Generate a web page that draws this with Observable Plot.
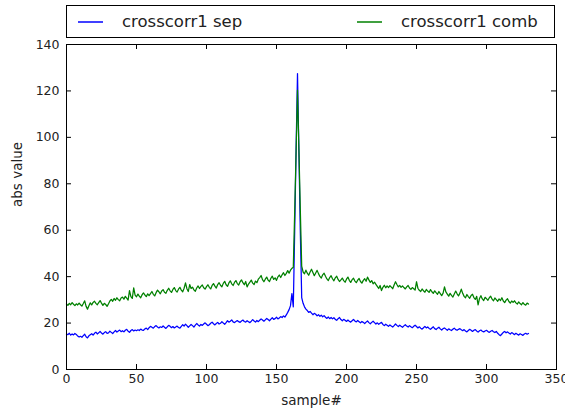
<!DOCTYPE html>
<html>
<head>
<meta charset="utf-8">
<script src="https://cdn.jsdelivr.net/npm/d3@7"></script>
<script src="https://cdn.jsdelivr.net/npm/@observablehq/plot@0.6"></script>
<style>
  body { margin: 0; background: #fff; font-family: "DejaVu Sans", sans-serif; }
  #wrap { position: relative; width: 565px; height: 415px; }
  #legend { position: absolute; left: 66px; top: 5px; width: 487px; height: 31px; border: 1px solid #000; background: #fff; box-sizing: content-box; }
  .item { position: absolute; top: 0; height: 31px; display: flex; align-items: center; font-size: 16.5px; color: #222; }
  .item svg { display: block; margin-right: 19px; }
</style>
</head>
<body>
<div id="wrap">
  <div id="chart"></div>
  <div id="legend"></div>
</div>
<script>
const seriesNames = ["crosscorr1 sep", "crosscorr1 comb"];
const seriesColors = ["#0000ff", "#008000"];
const xTicks = [0, 50, 100, 150, 200, 250, 300, 350];
const yTicks = [0, 20, 40, 60, 80, 100, 120, 140];
const xLabel = "sample#";
const yLabel = "abs value";

// sample index 0..330
const sep = [
15.2,15.0,15.6,14.8,15.3,14.9,15.5,15.1,14.4,14.0,
14.3,13.9,14.6,15.2,14.1,13.6,14.5,15.0,15.4,14.8,
15.6,16.1,15.3,15.8,16.4,15.7,15.2,15.9,16.3,15.6,
15.8,16.5,16.0,15.5,16.2,16.8,16.1,16.6,17.0,16.3,
16.7,16.2,16.9,17.3,16.5,16.0,16.8,17.2,16.6,17.0,
16.7,17.1,16.8,17.4,17.0,16.9,17.5,17.8,17.2,18.0,
18.6,18.2,17.8,18.5,18.9,18.3,17.9,18.4,18.1,18.8,
18.2,17.7,18.4,19.0,18.6,18.0,18.5,17.9,18.3,18.7,
18.1,17.8,18.6,19.3,18.7,19.5,18.9,18.2,18.8,19.4,
18.9,18.3,19.1,19.8,19.2,18.7,19.4,19.0,19.6,20.1,
19.5,18.9,19.3,19.9,20.4,19.7,19.2,19.8,20.3,19.6,
19.9,20.6,20.0,19.5,20.2,21.0,20.4,20.8,21.4,20.5,
20.2,20.7,21.1,20.6,20.3,20.9,21.3,20.7,20.4,21.0,
20.6,20.2,20.8,21.5,20.9,20.4,21.1,20.6,21.2,21.8,
21.3,20.8,21.4,22.0,21.5,21.0,21.7,22.3,21.6,21.9,
22.5,21.8,22.2,22.8,22.4,23.1,22.6,23.5,24.6,25.8,
27.5,32.7,27.0,60.0,95.0,127.5,94.0,60.0,31.0,28.5,
27.0,26.0,25.4,24.6,25.0,24.3,23.6,24.2,23.8,23.1,
23.6,22.9,23.4,22.7,23.2,22.5,22.0,22.6,21.9,22.4,
21.8,22.3,21.6,21.2,21.9,22.4,21.5,21.0,21.6,21.2,
20.7,21.3,20.8,20.4,21.0,21.6,20.9,20.5,21.1,20.6,
20.1,20.7,20.3,19.8,20.4,20.9,20.2,19.7,20.3,20.8,
20.2,19.6,20.1,19.5,19.9,20.3,19.4,18.9,19.5,19.1,
18.6,19.2,18.7,18.3,18.9,19.6,19.0,18.5,19.1,18.6,
18.2,18.8,19.3,18.7,18.3,18.9,18.4,18.0,18.6,19.1,
18.5,17.9,18.4,17.8,17.4,18.0,18.6,17.9,18.3,17.7,
17.3,17.9,18.4,17.6,17.2,17.8,18.2,17.5,17.0,17.6,
17.9,17.4,16.9,17.5,17.1,16.8,17.4,17.8,17.2,16.9,
17.3,17.6,17.1,16.7,17.2,16.6,16.2,16.8,17.3,16.9,
16.4,16.9,17.2,16.6,16.1,16.7,17.0,16.5,16.2,16.6,
16.9,16.4,16.0,16.5,16.8,16.3,15.9,16.4,15.6,15.0,
14.6,15.3,16.0,16.4,15.8,16.2,15.7,15.3,15.9,15.5,
15.0,15.6,15.2,14.8,15.4,15.1,14.7,15.3,15.6,15.2,
15.5
];

const comb = [
28.2,27.6,28.5,27.9,28.8,28.1,27.5,28.3,27.8,28.6,
27.9,27.3,28.4,29.6,27.2,26.0,27.5,28.7,27.8,28.9,
29.4,28.5,27.9,28.8,29.7,28.6,27.6,28.5,28.0,27.2,
28.3,29.5,30.2,29.4,30.6,29.8,30.9,30.1,29.6,30.8,
31.2,30.3,31.5,30.7,29.9,34.0,31.4,30.6,35.2,32.0,
31.3,32.5,31.6,30.9,32.2,33.0,32.1,31.4,32.6,31.8,
32.7,33.6,32.4,31.7,33.1,34.2,33.5,32.6,33.8,34.4,
33.3,32.8,34.1,35.0,33.9,33.2,34.5,35.3,34.0,33.4,
34.6,35.4,34.2,33.5,35.0,37.3,34.8,33.6,36.6,34.9,
35.5,34.3,33.7,35.1,36.0,34.9,35.8,36.4,35.2,34.6,
35.7,36.5,35.4,34.7,36.2,37.0,35.9,35.1,36.6,37.4,
36.3,35.6,37.1,38.0,36.5,35.8,37.3,38.2,36.9,36.2,
37.5,38.3,37.0,36.4,37.8,38.6,37.4,36.5,37.9,35.6,
36.8,37.6,38.5,37.2,36.6,38.1,37.4,38.9,39.6,40.5,
38.7,37.8,38.9,39.8,38.5,37.9,39.3,40.2,38.8,39.5,
38.4,39.9,40.7,39.6,40.8,41.7,40.5,41.4,42.6,41.5,
42.8,43.6,44.0,68.0,94.0,120.3,95.0,69.0,44.5,42.0,
41.2,42.8,41.5,40.6,42.0,43.2,41.8,40.4,41.6,42.7,
41.3,40.1,39.4,40.8,41.5,40.2,39.0,38.3,39.6,40.4,
39.1,38.2,39.5,40.2,38.8,37.9,38.6,39.4,38.3,37.6,
38.9,39.8,38.4,37.5,38.7,39.3,38.1,37.4,38.5,39.2,
37.9,37.2,38.4,39.1,38.0,39.8,38.6,37.5,38.3,36.9,
37.6,36.7,35.8,34.9,36.2,34.0,35.4,36.3,35.2,36.0,
35.3,36.1,35.5,34.8,36.4,37.8,36.6,35.6,36.2,35.4,
36.0,35.3,34.7,35.6,36.2,35.1,34.5,35.3,34.8,34.2,
37.8,35.0,34.1,33.6,34.7,33.9,33.3,34.5,33.8,33.2,
34.4,33.5,32.8,33.9,33.1,32.4,33.6,32.7,31.8,32.9,
35.6,33.4,32.5,31.6,32.8,31.9,31.2,32.5,33.8,32.6,
31.7,32.9,34.6,32.8,31.5,30.9,32.3,31.4,30.7,31.9,
32.4,31.0,30.2,31.5,27.8,30.6,31.8,30.4,29.7,31.1,
30.5,29.8,30.9,31.6,30.3,29.6,30.8,30.1,29.4,30.4,
29.7,30.9,29.5,28.8,29.9,30.5,29.3,28.6,29.5,28.9,
29.6,28.7,28.2,29.1,28.4,27.9,28.8,28.1,27.7,28.6,
28.2
];

const rows = [];
[sep, comb].forEach((arr, s) => arr.forEach((v, i) => rows.push({series: seriesNames[s], x: i, y: v})));

const W = 565, H = 415, mL = 66, mR = 9, mT = 44, mB = 46;
const fw = W - mL - mR, fh = H - mT - mB, tk = 5;

const plot = Plot.plot({
  width: W, height: H,
  marginLeft: mL, marginRight: mR, marginTop: mT, marginBottom: mB,
  style: {fontFamily: "DejaVu Sans, sans-serif", fontSize: "12.5px", color: "#222", background: "#fff"},
  x: {domain: [0, 350], ticks: xTicks},
  y: {domain: [0, 140], ticks: yTicks},
  color: {domain: seriesNames, range: seriesColors},
  marks: [
    Plot.line(rows, {x: "x", y: "y", z: "series", stroke: "series", strokeWidth: 1.25}),
    Plot.frame({stroke: "#000", strokeWidth: 1}),
    Plot.tickX(xTicks, {x: d => d, insetTop: fh - tk, stroke: "#000"}),
    Plot.tickX(xTicks, {x: d => d, insetBottom: fh - tk, stroke: "#000"}),
    Plot.tickY(yTicks, {y: d => d, insetRight: fw - tk, stroke: "#000"}),
    Plot.tickY(yTicks, {y: d => d, insetLeft: fw - tk, stroke: "#000"}),
    Plot.axisX(xTicks, {tickSize: 0, tickPadding: 5, label: null, fill: "#222"}),
    Plot.axisY(yTicks, {tickSize: 0, tickPadding: 7, label: null, fill: "#222"}),
    Plot.text([xLabel], {frameAnchor: "bottom", dy: 35, fontSize: 13.5, fill: "#222"}),
    Plot.text([yLabel], {frameAnchor: "left", dx: -49, rotate: -90, fontSize: 13.5, fill: "#222"})
  ]
});
document.getElementById("chart").appendChild(plot);

const legend = d3.select("#legend");
const itemLeft = [11, 290];
seriesNames.forEach((name, i) => {
  const it = legend.append("div").attr("class", "item").style("left", itemLeft[i] + "px");
  const sv = it.append("svg").attr("width", 25).attr("height", 4);
  sv.append("line").attr("x1", 0).attr("x2", 25).attr("y1", 2).attr("y2", 2)
    .attr("stroke", seriesColors[i]).attr("stroke-width", 1.5);
  it.append("span").text(name);
});
</script>
</body>
</html>
